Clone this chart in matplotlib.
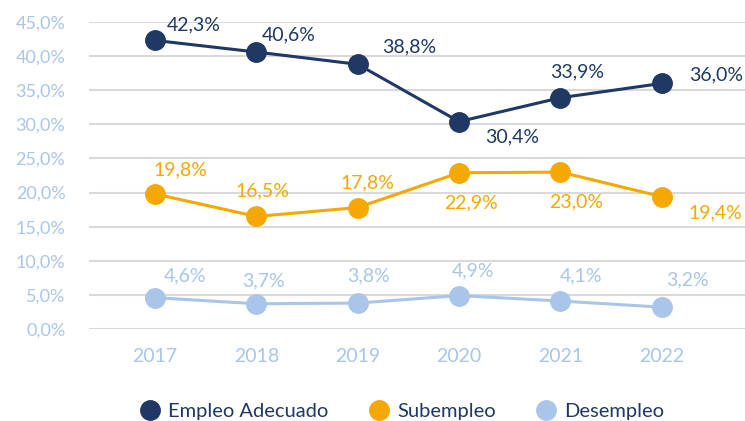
import matplotlib
matplotlib.use("Agg")
import matplotlib.pyplot as plt
from matplotlib.lines import Line2D

# data
years = ["2017", "2018", "2019", "2020", "2021", "2022"]
empleo = [42.3, 40.6, 38.8, 30.4, 33.9, 36.0]
subempleo = [19.8, 16.5, 17.8, 22.9, 23.0, 19.4]
desempleo = [4.6, 3.7, 3.8, 4.9, 4.1, 3.2]
yticks = [0, 5, 10, 15, 20, 25, 30, 35, 40, 45]

NAVY = "#1f3864"
ORANGE = "#f5a800"
LIGHT = "#a9c6ea"

# label offsets (pixels) for each point
off_emp = [(39, 16), (32, 17), (52, 17), (53, -15), (17, 26), (54, 9)]
off_sub = [(26, 24), (6, 26), (10, 25), (12, -30), (16, -30), (53, -16)]
off_des = [(30, 22), (7, 23), (11, 27), (14, 25), (21, 25), (26, 27)]

plt.rcParams['font.family'] = ['Lato', 'DejaVu Sans']

fig = plt.figure(figsize=(7.45, 4.21), dpi=100)
ax = fig.add_axes([89/745, 1-329/421, 656/745, 307/421])

x = list(range(len(years)))
series = [(desempleo, LIGHT, off_des), (subempleo, ORANGE, off_sub), (empleo, NAVY, off_emp)]
for vals, col, offs in series:
    ax.plot(x, vals, color=col, lw=2.2, marker="o", ms=14, zorder=3, clip_on=False)
    for xi, v, (dx, dy) in zip(x, vals, offs):
        ax.annotate(f"{v:.1f}%".replace(".", ","), (xi, v), xytext=(dx, dy),
                    textcoords="offset pixels", ha="center", va="center",
                    color=col, fontsize=14)

ax.set_xlim(-0.65, 5.82)
ax.set_ylim(0, 45)
ax.set_yticks(yticks)
ax.set_yticklabels([f"{t:.1f}%".replace(".", ",") for t in yticks])
ax.set_xticks(x)
ax.set_xticklabels(years)
ax.grid(axis="y", color="#d9d9d9", lw=1.5, zorder=0)
ax.set_axisbelow(True)
for s in ax.spines.values():
    s.set_visible(False)
ax.tick_params(axis="y", length=0, pad=17, labelcolor=LIGHT, labelsize=13)
ax.tick_params(axis="x", length=0, pad=14, labelcolor=LIGHT, labelsize=14)

handles = [Line2D([], [], ls="none", marker="o", ms=14, color=c) for c in (NAVY, ORANGE, LIGHT)]
fig.legend(handles, ["Empleo Adecuado", "Subempleo", "Desempleo"], loc="center",
           bbox_to_anchor=(402/745, 1-411/421), ncol=3, frameon=False,
           fontsize=14.5, labelcolor=NAVY, handletextpad=0.4, columnspacing=2.0,
           handlelength=1.0)

fig.savefig("out.png", dpi=100)
